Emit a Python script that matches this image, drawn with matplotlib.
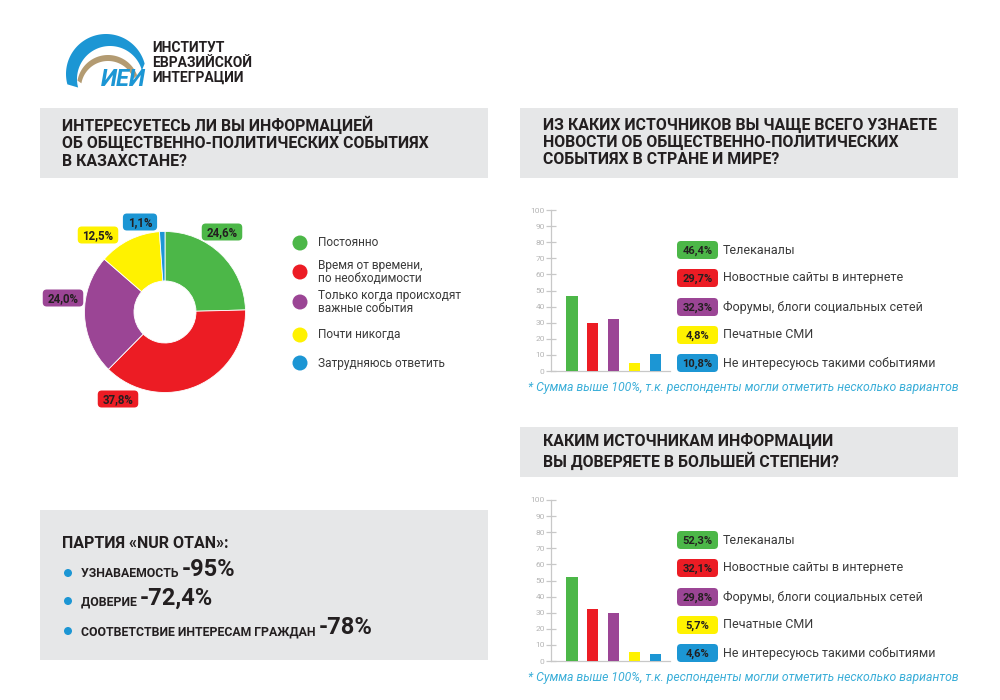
import matplotlib
matplotlib.use("Agg")
import matplotlib.pyplot as plt
import numpy as np
from matplotlib.patches import FancyBboxPatch, Rectangle, Polygon, Circle

plt.rcParams['font.family'] = ['Roboto', 'DejaVu Sans']

# ---------------- data ----------------
donut_labels = ["Постоянно", "Время от времени,\nпо необходимости",
                "Только когда происходят\nважные события", "Почти никогда",
                "Затрудняюсь ответить"]
donut_values = [24.6, 37.8, 24.0, 12.5, 1.1]
donut_value_text = ["24,6%", "37,8%", "24,0%", "12,5%", "1,1%"]

src_labels = ["Телеканалы", "Новостные сайты в интернете",
              "Форумы, блоги социальных сетей", "Печатные СМИ",
              "Не интересуюсь такими событиями"]
src_values = [46.4, 29.7, 32.3, 4.8, 10.8]
src_value_text = ["46,4%", "29,7%", "32,3%", "4,8%", "10,8%"]

trust_values = [52.3, 32.1, 29.8, 5.7, 4.6]
trust_value_text = ["52,3%", "32,1%", "29,8%", "5,7%", "4,6%"]

y_ticks = [0, 10, 20, 30, 40, 50, 60, 70, 80, 90, 100]

party_items = ["УЗНАВАЕМОСТЬ", "ДОВЕРИЕ", "СООТВЕТСТВИЕ ИНТЕРЕСАМ ГРАЖДАН"]
party_values = ["-95%", "-72,4%", "-78%"]

colors = ["#4cb748", "#ec1c24", "#9b4595", "#fff200", "#1c96d4"]
GRAY = "#e6e7e8"
DARK = "#231f20"
TEXT = "#3a3a3a"
FOOT = "#3aaed8"

# ---------------- figure ----------------
fig = plt.figure(figsize=(10, 7), dpi=100)
ov = fig.add_axes([0, 0, 1, 1])
ov.set_xlim(0, 1000)
ov.set_ylim(700, 0)
ov.axis("off")
ov.set_zorder(0)

# ---- logo ----
def crescent(cx1, cy1, r1, cx2, cy2, r2, a0, a1, n=80):
    t = np.radians(np.linspace(a0, a1, n))
    outer = np.c_[cx1 + r1 * np.cos(t), cy1 - r1 * np.sin(t)]
    inner = np.c_[cx2 + r2 * np.cos(t[::-1]), cy2 - r2 * np.sin(t[::-1])]
    return np.vstack([outer, inner])

ov.add_patch(Polygon(crescent(106, 74, 40, 110, 79, 33, 15, 195), closed=True,
                     color="#1c96d4", lw=0))
ov.add_patch(Polygon(crescent(108, 86, 31, 108, 88, 27, 20, 170), closed=True,
                     color="#b39b72", lw=0))
ov.text(123, 79, "ИЕИ", fontsize=17, fontweight="bold", style="italic",
        color="#1c96d4", ha="center", va="center")
for i, line in enumerate(["ИНСТИТУТ", "ЕВРАЗИЙСКОЙ", "ИНТЕГРАЦИИ"]):
    ov.text(152, 48 + 15 * i, line, fontsize=10, fontweight="bold",
            color=DARK, ha="left", va="center")

# ---- gray boxes ----
ov.add_patch(Rectangle((40, 108), 448, 70, color=GRAY, lw=0))
ov.add_patch(Rectangle((520, 108), 438, 70, color=GRAY, lw=0))
ov.add_patch(Rectangle((520, 427), 438, 50, color=GRAY, lw=0))
ov.add_patch(Rectangle((40, 510), 448, 150, color=GRAY, lw=0))

def title(x, y0, lines, dy=18):
    for i, l in enumerate(lines):
        ov.text(x, y0 + dy * i, l, fontsize=11.4, fontweight="bold", color=DARK,
                ha="left", va="center")

title(62, 125, ["ИНТЕРЕСУЕТЕСЬ ЛИ ВЫ ИНФОРМАЦИЕЙ",
                "ОБ ОБЩЕСТВЕННО-ПОЛИТИЧЕСКИХ СОБЫТИЯХ",
                "В КАЗАХСТАНЕ?"])
title(543, 125, ["ИЗ КАКИХ ИСТОЧНИКОВ ВЫ ЧАЩЕ ВСЕГО УЗНАЕТЕ",
                 "НОВОСТИ ОБ ОБЩЕСТВЕННО-ПОЛИТИЧЕСКИХ",
                 "СОБЫТИЯХ В СТРАНЕ И МИРЕ?"], dy=17.5)
title(543, 441, ["КАКИМ ИСТОЧНИКАМ ИНФОРМАЦИИ",
                 "ВЫ ДОВЕРЯЕТЕ В БОЛЬШЕЙ СТЕПЕНИ?"], dy=20)

# ---- donut ----
cx, cy, R = 165, 312, 80.5
half = 100
axd = fig.add_axes([(cx - half) / 1000, 1 - (cy + half) / 700, 2 * half / 1000, 2 * half / 700])
axd.pie(donut_values, colors=colors, startangle=90, counterclock=False,
        radius=1.0, wedgeprops=dict(width=0.615, edgecolor="white", linewidth=0.6))
lim = half / R
axd.set_xlim(-lim, lim)
axd.set_ylim(-lim, lim)
axd.set_aspect("equal")
axd.axis("off")

def tag(x, y, txt, col, w, h=17, fs=8):
    ov.add_patch(FancyBboxPatch((x - w / 2, y - h / 2), w, h,
                                boxstyle="round,pad=0,rounding_size=4",
                                color=col, lw=0, zorder=5))
    ov.text(x, y + 0.5, txt, fontsize=fs, fontweight="bold", color=DARK,
            ha="center", va="center", zorder=6)

donut_tag_pos = [(222, 232), (118, 399), (63, 298), (98, 235), (140, 222)]
for (x, y), t, c in zip(donut_tag_pos, donut_value_text, colors):
    tag(x, y, t, c, 9 + 6.3 * len(t), fs=8.3)

# donut legend
leg_y = [243, 272, 302, 335, 363]
for y, lab, c in zip(leg_y, donut_labels, colors):
    ov.add_patch(Circle((300, y), 7.5, color=c, lw=0))
    ov.text(318, y, lab, fontsize=8.6, color=TEXT, ha="left", va="center",
            linespacing=0.95)

# ---- bar charts ----
def bar_chart(top_px, values, vtexts):
    bottom_px = top_px + 161
    ax = fig.add_axes([551 / 1000, 1 - bottom_px / 700, 119 / 1000, 161 / 700])
    x = np.arange(len(values))
    ax.bar(x, values, width=0.53, color=colors, zorder=3)
    ax.set_ylim(0, 100)
    ax.set_xlim(-1.01, 4.71)
    ax.set_yticks(y_ticks)
    ax.set_xticks([])
    for s in ["top", "right"]:
        ax.spines[s].set_visible(False)
    for s in ["left", "bottom"]:
        ax.spines[s].set_color("#c8c8c8")
        ax.spines[s].set_linewidth(0.9)
    ax.tick_params(axis="y", direction="inout", length=7, width=0.9,
                   color="#c8c8c8", labelcolor="#b5b5b5", labelsize=6, pad=1)
    ax.patch.set_alpha(0)
    # legend with value tags
    ly = [top_px + 40, top_px + 68, top_px + 97, top_px + 125, top_px + 153]
    for y, t, lab, c in zip(ly, vtexts, src_labels, colors):
        tag(697.5, y, t, c, 41, h=18, fs=8)
        ov.text(723, y, lab, fontsize=9, color=TEXT, ha="left", va="center")
    ov.text(528, top_px + 178, "* Сумма выше 100%, т.к. респонденты могли отметить несколько вариантов",
            fontsize=8.8, style="italic", color=FOOT, ha="left", va="center")
    return ax

bar_chart(210, src_values, src_value_text)
bar_chart(500, trust_values, trust_value_text)

# ---- party box ----
ov.text(62, 543, "ПАРТИЯ «NUR OTAN»:", fontsize=11.5, fontweight="bold",
        color=DARK, ha="left", va="center")
party_y = [573, 601, 631]
for y, item, val in zip(party_y, party_items, party_values):
    ov.add_patch(Circle((68, y), 4, color="#1c96d4", lw=0))
    t = ov.text(81, y + 4, item + " ", fontsize=8.8, fontweight="bold", color=DARK,
                ha="left", va="baseline")
    ov.annotate(val, xy=(1, 0), xycoords=t, xytext=(0, -1), textcoords="offset points",
                fontsize=17, fontweight="bold", color=DARK, ha="left", va="bottom")

fig.savefig("out.png", dpi=100)
